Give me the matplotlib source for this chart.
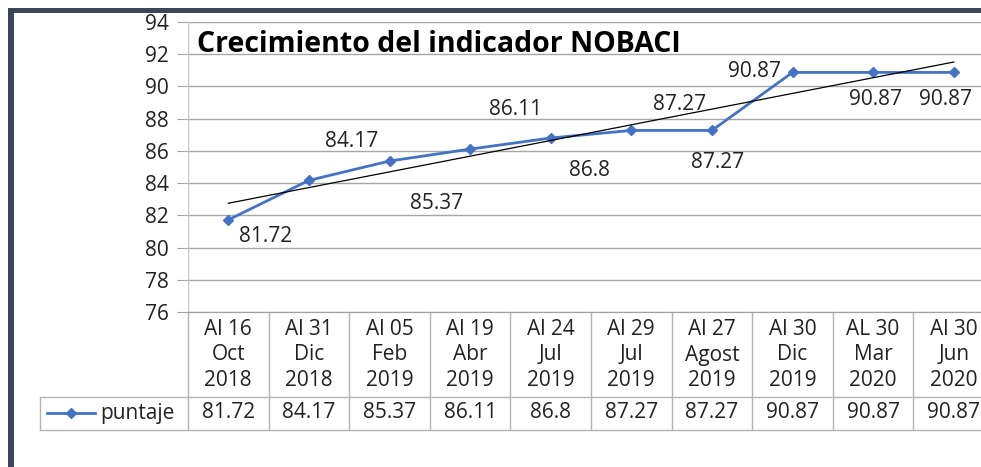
import numpy as np
import matplotlib.pyplot as plt
import matplotlib.transforms as mtransforms
from matplotlib.lines import Line2D

plt.rcParams['font.family'] = ['Open Sans', 'DejaVu Sans']

# data
fechas = ["Al 16\nOct\n2018", "Al 31\nDic\n2018", "Al 05\nFeb\n2019",
          "Al 19\nAbr\n2019", "Al 24\nJul\n2019", "Al 29\nJul\n2019",
          "Al 27\nAgost\n2019", "Al 30\nDic\n2019", "AL 30\nMar\n2020",
          "Al 30\nJun\n2020"]
puntaje = [81.72, 84.17, 85.37, 86.11, 86.8, 87.27, 87.27, 90.87, 90.87, 90.87]
etiquetas = ["81.72", "84.17", "85.37", "86.11", "86.8", "87.27", "87.27",
             "90.87", "90.87", "90.87"]

# label offsets in pixels (dx, dy)
offsets = [(37, -17), (43, 39), (47, -42), (45, 40), (39, -32),
           (48, 26), (6, -32), (-38, 1), (2, -27), (-8, -27)]

W, H = 981, 467
fig = plt.figure(figsize=(W / 100, H / 100), dpi=100)
ax = fig.add_axes([188 / W, (H - 312) / H, (994 - 188) / W, 290 / H])

x = np.arange(len(puntaje))
blue = "#4472C4"
ax.plot(x, puntaje, color=blue, lw=2, marker="D", ms=5, zorder=3)

# linear trendline
m, b = np.polyfit(x, puntaje, 1)
ax.plot([x[0], x[-1]], [m * x[0] + b, m * x[-1] + b], color="black", lw=0.9, zorder=4)

for xi, yi, lab, (dx, dy) in zip(x, puntaje, etiquetas, offsets):
    ax.annotate(lab, (xi, yi), xytext=(dx, dy), textcoords="offset pixels",
                ha="center", va="center", fontsize=15, color="#222222")

ax.set_xlim(-0.5, len(puntaje) - 0.5)
ax.set_ylim(76, 94)
ax.set_yticks(np.arange(76, 95, 2))
ax.yaxis.grid(True, color="#a6a6a6", lw=1)
ax.set_axisbelow(True)
ax.set_xticks([])
for s in ["top", "right", "left"]:
    ax.spines[s].set_visible(False)
ax.spines["bottom"].set_color("#a0a0a0")
ax.axvline(-0.5, color="#c8c8c8", lw=1, zorder=1)
ax.tick_params(axis="y", length=8, color="#a6a6a6", labelsize=15, pad=6,
               labelcolor="#222222")

ax.text(197 / W, (H - 45) / H, "Crecimiento del indicador NOBACI",
        transform=fig.transFigure, fontsize=20.5, fontweight="bold",
        ha="left", va="center", color="black")

# data table below the axis
tr = mtransforms.blended_transform_factory(ax.transData, ax.transAxes)
bot_y = -118 / 290
line_kw = dict(color="#b4b4b4", lw=1, clip_on=False)
for i in range(len(puntaje) + 1):
    ax.add_line(Line2D([i - 0.5, i - 0.5], [0, bot_y], transform=tr, **line_kw))
for i, (f, v) in enumerate(zip(fechas, etiquetas)):
    ax.text(i, -43 / 290, f, transform=tr, ha="center", va="center",
            fontsize=15, linespacing=1.28, color="#222222")
    ax.text(i, -101 / 290, v, transform=tr, ha="center", va="center",
            fontsize=15, color="#222222")

ft = fig.transFigure
for yy in [H - 397, H - 430]:
    fig.add_artist(Line2D([40 / W, 1], [yy / H, yy / H], transform=ft, **line_kw))
fig.add_artist(Line2D([40 / W, 40 / W], [(H - 397) / H, (H - 430) / H], transform=ft, **line_kw))
fig.add_artist(Line2D([47 / W, 95 / W], [(H - 413) / H] * 2, transform=ft,
                      color=blue, lw=2))
fig.add_artist(Line2D([71 / W], [(H - 413) / H], transform=ft, color=blue,
                      marker="D", ms=5))
fig.text(100 / W, (H - 414) / H, "puntaje", fontsize=15, ha="left", va="center",
         color="#222222")

# dark slide frame
frame = "#3b4759"
fig.add_artist(plt.Rectangle((8 / W, 0), 6 / W, (H - 8) / H, transform=ft,
                             color=frame, lw=0))
fig.add_artist(plt.Rectangle((8 / W, (H - 13) / H), 1, 5 / H, transform=ft,
                             color=frame, lw=0))

fig.savefig("out.png", dpi=100)
